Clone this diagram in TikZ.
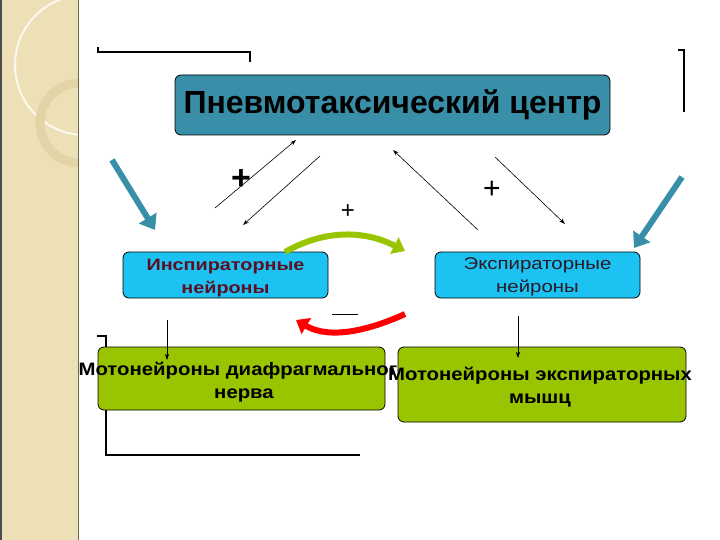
\documentclass[tikz,border=0pt]{standalone}
\usepackage{fontspec}
\setmainfont{Liberation Sans}
\newfontfamily\widefont[FakeStretch=1.2]{Liberation Sans}
\newfontfamily\motofont[FakeStretch=1.13]{Liberation Sans}
\usetikzlibrary{arrows.meta}
\definecolor{beige}{HTML}{EDE0B6}
\definecolor{beigedark}{HTML}{E2D4A6}
\definecolor{teal}{HTML}{3A8FA8}
\definecolor{skyb}{HTML}{1CC2F2}
\definecolor{grn}{HTML}{99C400}
\definecolor{maroon}{HTML}{5A0F25}
\definecolor{txtd}{HTML}{2A1A25}
\definecolor{arrteal}{HTML}{3A8FA8}
\tikzset{
  box/.style={draw=black, rounded corners=6pt, line width=0.8pt, align=center, inner sep=0pt},
  thin/.style={draw=black, line width=0.6pt, -{Stealth[length=6pt,width=4pt]}},
  bracket/.style={draw=black, line width=1.5pt},
  plus/.style={font=\bfseries, inner sep=0pt},
  fat/.style={line width=6pt, -{Triangle[length=14pt,width=20pt]}},
  mototext/.style={font=\motofont\bfseries\fontsize{18}{23}\selectfont, align=center, inner sep=0pt}
}
\begin{document}
\begin{tikzpicture}[x=1pt,y=-1pt]
\useasboundingbox (0,0) rectangle (720,540);
% left decorative bar
\fill[beige] (0,0) rectangle (79,540);
\begin{scope}
\clip (0,0) rectangle (79,540);
\fill[white, opacity=0.35] (0,0) -- (75,0) arc[start angle=90,end angle=180,radius=60] -- cycle;
\draw[white, line width=2pt, opacity=0.8] (85,65) circle[radius=70];
\draw[beigedark, line width=9pt] (80,123) circle[radius=40];
\end{scope}
\draw[black!70, line width=1.5pt] (0.75,0) -- (0.75,540);
\draw[black!55!beige, line width=1.5pt] (78.5,0) -- (78.5,540);
% brackets
\draw[bracket] (98,47) -- (98,52) -- (250,52) -- (250,62);
\draw[bracket] (678,50) -- (684,50) -- (684,112);
\draw[bracket] (97,336) -- (106,336) -- (106,455) -- (360,455);
% nodes
\node[box, fill=teal, minimum width=435pt, minimum height=60pt, font=\bfseries\fontsize{32}{36}\selectfont] (pc) at (392.5,105) {Пневмотаксический центр};
\node[box, fill=skyb, minimum width=205pt, minimum height=46pt] (in) at (225.5,275) {};
\node[text=maroon, font=\widefont\bfseries\fontsize{16.5}{23}\selectfont, align=center, inner sep=0pt] (intxt) at (225.5,278) {Инспираторные\\нейроны};
\node[box, fill=skyb, minimum width=205pt, minimum height=46pt] (ex) at (537.5,275) {};
\node[text=txtd, font=\widefont\fontsize{17}{23}\selectfont, align=center, inner sep=0pt] (extxt) at (537.5,277) {Экспираторные\\нейроны};
\node[box, fill=grn, minimum width=287pt, minimum height=63pt] (ml) at (241.5,378.5) {};
\node[mototext] (mlt) at (244,382) {Мотонейроны диафрагмального\\нерва};
\node[box, fill=grn, minimum width=288pt, minimum height=75pt] (mr) at (542,384.5) {};
\node[mototext] (mrt) at (540,387) {Мотонейроны экспираторных\\мышц};
% coordinates for thin arrows
\coordinate (a1s) at (215,208); \coordinate (a1e) at (296,140);
\coordinate (a2s) at (320,156); \coordinate (a2e) at (243,225);
\coordinate (a3s) at (478,230); \coordinate (a3e) at (393,150);
\coordinate (a4s) at (495,157); \coordinate (a4e) at (565,224);
\draw[thin] (a1s) -- (a1e);
\draw[thin] (a2s) -- (a2e);
\draw[thin] (a3s) -- (a3e);
\draw[thin] (a4s) -- (a4e);
\node[plus, font=\bfseries\fontsize{34}{34}\selectfont] (p1) at (241,180) {+};
\node[plus, font=\fontsize{24}{24}\selectfont] (p2) at (348,212) {+};
\node[plus, font=\fontsize{30}{30}\selectfont] (p3) at (492,190) {+};
% curved arrows
\coordinate (gs) at (285,252); \coordinate (ge) at (405,251);
\draw[grn, line width=6pt, -{Triangle[length=12pt,width=18pt]}] (gs) .. controls (320,232) and (360,228) .. (ge);
\coordinate (rs) at (405,314); \coordinate (re) at (296,320);
\draw[red, line width=6pt, -{Triangle[length=12pt,width=18pt]}] (rs) .. controls (370,330) and (330,340) .. (re);
\node[inner sep=0pt] (minus) at (345,314) {\rule{26pt}{1pt}};
% teal arrows
\coordinate (tls) at (112,160); \coordinate (tle) at (155,230);
\coordinate (trs) at (682,177); \coordinate (tre) at (634,248);
\draw[arrteal, fat] (tls) -- (tle);
\draw[arrteal, fat] (trs) -- (tre);
% vertical arrows
\coordinate (v1s) at (167,320); \coordinate (v2s) at (518,316);
\draw[thin] (v1s) -- (167,360);
\draw[thin] (v2s) -- (518,358);
\end{tikzpicture}
\end{document}
